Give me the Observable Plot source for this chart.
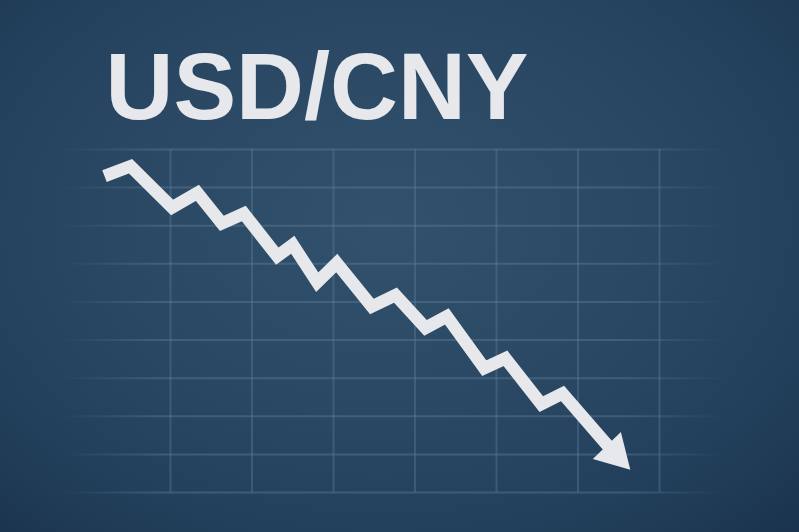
<!DOCTYPE html>
<html>
<head>
<meta charset="utf-8">
<script src="https://cdn.jsdelivr.net/npm/d3@7"></script>
<script src="https://cdn.jsdelivr.net/npm/@observablehq/plot@0.6"></script>
<style>
  html, body { margin: 0; padding: 0; background: #1d3650; }
  #chart svg { display: block; }
</style>
</head>
<body>
<div id="chart"></div>
<script>
// ---- data ----
const title = "USD/CNY";
const period = [0.19, 0.51, 1.02, 1.33, 1.63, 1.90, 2.31, 2.50, 2.80, 3.04, 3.47, 3.76, 4.13, 4.39, 4.85, 5.11, 5.55, 5.81, 6.45];
const rate   = [7.315, 7.328, 7.274, 7.293, 7.253, 7.266, 7.210, 7.225, 7.176, 7.201, 7.144, 7.159, 7.116, 7.131, 7.063, 7.076, 7.016, 7.030, 6.951];
const gridX = [1, 2, 3, 4, 5, 6, 7];
const gridY = [7.35, 7.30, 7.25, 7.20, 7.15, 7.10, 7.05, 7.00, 6.95, 6.90];

const series = period.map((p, i) => ({period: p, rate: rate[i]}));
const last = series[series.length - 1];

const ink = "#e6e8eb";

const chart = Plot.plot({
  width: 799,
  height: 532,
  margin: 0,
  style: {
    background: "radial-gradient(ellipse 75% 80% at 48% 42%, #31516d 0%, #2a4864 45%, #22405b 75%, #1b334c 100%)",
    overflow: "visible"
  },
  x: {domain: [1, 7], range: [170, 659], axis: null},
  y: {domain: [6.90, 7.35], range: [492, 149], axis: null},
  marks: [
    Plot.ruleY(gridY, {x1: -0.35, x2: 7.75, stroke: "url(#hfade)", strokeWidth: 2}),
    Plot.ruleX(gridX, {y1: 6.90, y2: 7.35, stroke: "#5f7e9b", strokeOpacity: 0.4, strokeWidth: 2}),
    Plot.line(series, {
      x: "period", y: "rate",
      stroke: ink, strokeWidth: 12.5,
      strokeLinejoin: "miter", strokeLinecap: "butt", strokeMiterlimit: 10
    }),
    Plot.dot([last], {
      x: "period", y: "rate",
      symbol: "triangle", r: 14.5, rotate: 136,
      fill: ink, stroke: "none"
    }),
    Plot.text([title], {
      frameAnchor: "top-left", textAnchor: "start", lineAnchor: "top",
      dx: 105, dy: 52,
      fontSize: 94, fontWeight: "bold",
      fontFamily: "'Liberation Sans', Arial, sans-serif",
      fill: ink
    })
  ]
});

// gradient used to fade horizontal grid lines at both ends
const ns = "http://www.w3.org/2000/svg";
const defs = document.createElementNS(ns, "defs");
const lg = document.createElementNS(ns, "linearGradient");
lg.setAttribute("id", "hfade");
lg.setAttribute("gradientUnits", "userSpaceOnUse");
lg.setAttribute("x1", "60"); lg.setAttribute("x2", "725");
lg.setAttribute("y1", "0"); lg.setAttribute("y2", "0");
[[0, 0], [0.15, 0.42], [0.85, 0.42], [1, 0]].forEach(([o, a]) => {
  const s = document.createElementNS(ns, "stop");
  s.setAttribute("offset", o);
  s.setAttribute("stop-color", "#5f7e9b");
  s.setAttribute("stop-opacity", a);
  lg.appendChild(s);
});
defs.appendChild(lg);
chart.insertBefore(defs, chart.firstChild);

document.getElementById("chart").appendChild(chart);
</script>
</body>
</html>
